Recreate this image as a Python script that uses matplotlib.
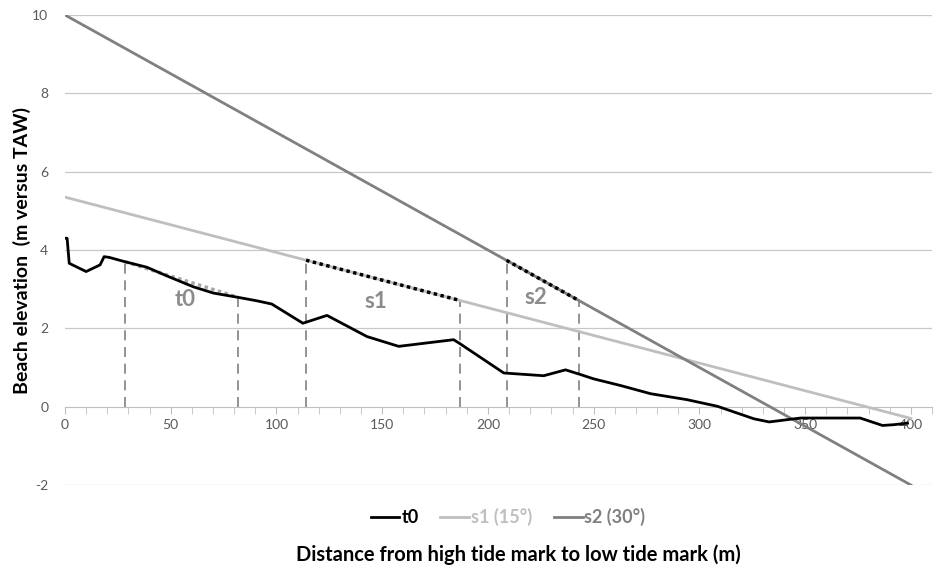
import numpy as np
import matplotlib
matplotlib.use("Agg")
import matplotlib.pyplot as plt
from matplotlib.ticker import MultipleLocator

plt.rcParams['font.family'] = ['Lato', 'DejaVu Sans']
plt.rcParams['axes.unicode_minus'] = False

# measured beach profile t0
dist = [0, 1, 2, 10, 16.6, 18.5, 21, 28.4, 38.7, 48.1, 60.7, 70.2, 82, 91, 97.8,
        112.5, 123.9, 142.8, 157.8, 183.8, 187, 207.5, 226.4, 236.7, 243.8, 250,
        262.7, 277, 294, 308.5, 325.8, 333, 344.8, 348, 376, 386.6, 392, 398.4]
elev = [4.30, 4.30, 3.66, 3.45, 3.62, 3.83, 3.81, 3.70, 3.56, 3.34, 3.06, 2.90, 2.79,
        2.70, 2.62, 2.13, 2.33, 1.79, 1.54, 1.71, 1.60, 0.86, 0.79, 0.94, 0.82, 0.71,
        0.54, 0.33, 0.18, 0.01, -0.31, -0.39, -0.31, -0.29, -0.29, -0.48, -0.46, -0.42]

# scenario slopes (start / end elevation at 0 and 400 m)
s_x = [0, 400]
s1_y = [5.35, -0.30]
s2_y = [10.0, -2.0]

# segment bounds used for the slope comparison
t0_seg = [28.4, 82]
s1_seg = [114, 187]
s2_seg = [208.8, 243]

seg_labels = ['t0', 's1', 's2']
label_pos = [(56.8, 2.73), (147, 2.68), (222.5, 2.78)]

c_t0 = 'black'
c_s1 = '#bfbfbf'
c_s2 = '#808080'
c_lab = '#8c8c8c'

fig = plt.figure(figsize=(9.36, 5.71), dpi=100)
ax = fig.add_axes([65/936, 1-485/571, (932-65)/936, 470/571])

for yy in [2, 4, 6, 8, 10, -2]:
    ax.axhline(yy, color='#c8c8c8', lw=0.9, zorder=0)

l0, = ax.plot(dist, elev, color=c_t0, lw=2, label='t0', zorder=4)
l1, = ax.plot(s_x, s1_y, color=c_s1, lw=2, label='s1 (15°)', zorder=3)
l2, = ax.plot(s_x, s2_y, color=c_s2, lw=2, label='s2 (30°)', zorder=3)

def on_line(x, xs, ys):
    return np.interp(x, xs, ys)

# vertical dashed markers
tops = [on_line(x, dist, elev) for x in t0_seg] + \
       [on_line(x, s_x, s1_y) for x in s1_seg] + \
       [on_line(x, s_x, s2_y) for x in s2_seg]
for x, top in zip(t0_seg + s1_seg + s2_seg, tops):
    ax.plot([x, x], [0, top], color='#808080', lw=1.2, ls=(0, (6, 4)), zorder=2)

# dotted segments
ty = [on_line(x, dist, elev) for x in t0_seg]
ax.plot(t0_seg, ty, color='#a6a6a6', lw=2.5, ls=(0, (1, 1)), zorder=3)
ax.plot(s1_seg, [on_line(x, s_x, s1_y) for x in s1_seg], color='black', lw=2.5,
        ls=(0, (1, 1)), zorder=5)
ax.plot(s2_seg, [on_line(x, s_x, s2_y) for x in s2_seg], color='black', lw=2.5,
        ls=(0, (1, 1)), zorder=5)

for lab, (x, y) in zip(seg_labels, label_pos):
    ax.text(x, y, lab, color=c_lab, fontsize=16, fontweight='bold',
            ha='center', va='center')

ax.set_xlim(0, 410)
ax.set_ylim(-2, 10)
for s in ['top', 'right', 'left']:
    ax.spines[s].set_visible(False)
ax.spines['bottom'].set_position(('data', 0))
ax.spines['bottom'].set_color('#bfbfbf')
ax.xaxis.set_major_locator(MultipleLocator(50))
ax.xaxis.set_minor_locator(MultipleLocator(10))
ax.tick_params(axis='x', which='both', length=5, color='#bfbfbf',
               labelsize=10, labelcolor='#595959', pad=4)
ax.set_yticks([-2, 0, 2, 4, 6, 8, 10])
ax.tick_params(axis='y', length=0, labelsize=10, labelcolor='#595959', pad=12)

fig.text(22/936, 1-250/571, 'Beach elevation  (m versus TAW)', rotation=90,
         fontsize=14, fontweight='bold', ha='center', va='center')
fig.text(518/936, 1-555/571, 'Distance from high tide mark to low tide mark (m)',
         fontsize=14.5, fontweight='bold', ha='center', va='center')

leg = fig.legend(handles=[l0, l1, l2], loc='center', bbox_to_anchor=(508/936, 1-517/571),
                 ncol=3, frameon=False, handlelength=1.6, handletextpad=0.1,
                 columnspacing=1.2, prop={'weight': 'bold', 'size': 13})
for txt, c in zip(leg.get_texts(), [c_t0, c_s1, c_s2]):
    txt.set_color(c)

fig.savefig('out.png', dpi=100)
